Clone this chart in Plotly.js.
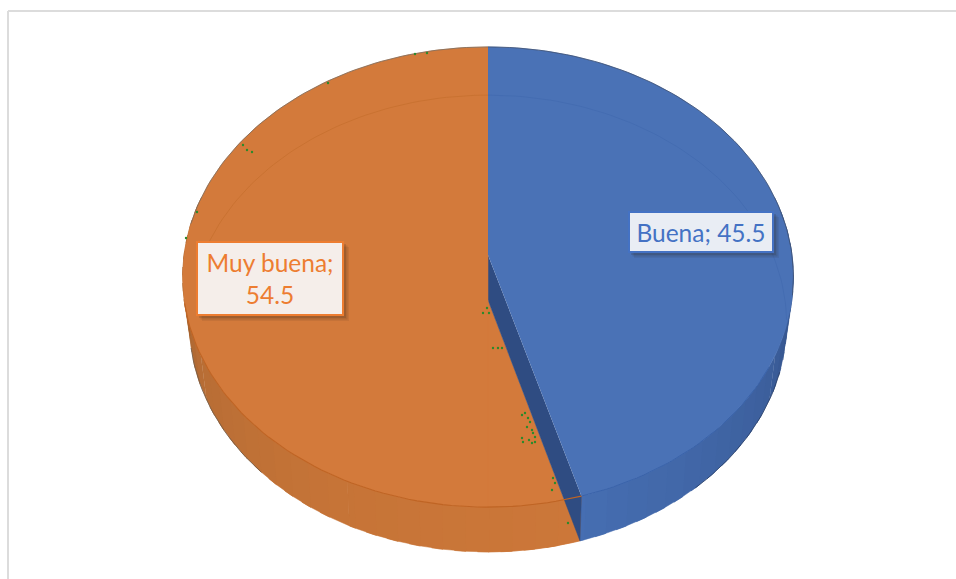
<!DOCTYPE html>
<html>
<head>
<meta charset="utf-8">
<script src="https://cdn.plot.ly/plotly-3.0.1.min.js"></script>
<style>html,body{margin:0;padding:0;background:#fff}#chart{width:956px;height:579px}</style>
</head>
<body>
<div id="chart"></div>
<script>
// Data
const categories = ['Buena', 'Muy buena'];
const values = [45.5, 54.5];
// Small green print specks
const speckX = [483,487,489,493,498,502,522,525,528,530,527,532,533,535,522,529,523,532,535,553,555,552,568,328,415,427,243,247,252,197,186];
const speckY = [313,308,313,348,348,348,415,413,418,422,427,430,433,437,438,440,442,443,442,478,483,490,523,83,54,53,145,150,152,212,238];

// Styles
const faceBlue = '#4a72b6', faceOrange = '#d37a3b';
const ringBlue = '#3a63aa', ringOrange = '#bf6424';
const backBlue = '#426bb0', backOrange = '#c7702f';
const quadDark = '#2f4c82';
const font = 'Lato, "Open Sans", sans-serif';

// Perspective discs (top face and base of the 3-D pie), in the axis units below
const topDisc = {cx: 488, ay: 255, rx: 304, ry: 228, p: 0.0957};
const baseDisc = {cx: 488, ay: 300, rx: 297, ry: 226, p: 0.103};
function pt(d, deg) {
  const a = deg * Math.PI / 180, u = Math.sin(a), v = -Math.cos(a), w = 1 - d.p * v;
  return [d.cx + d.rx * u / w, d.ay + d.ry * v / w];
}
function arc(d, a0, a1) {
  const n = Math.max(2, Math.ceil(Math.abs(a1 - a0) / 1.5)), out = [];
  for (let i = 0; i <= n; i++) out.push(pt(d, a0 + (a1 - a0) * i / n));
  return out;
}
function mix(c1, c2, t) {
  const h = c => [1, 3, 5].map(i => parseInt(c.substr(i, 2), 16));
  const A = h(c1), B = h(c2);
  return 'rgb(' + A.map((x, i) => Math.round(x + (B[i] - x) * t)).join(',') + ')';
}
const traces = [];
function poly(points, color) {
  traces.push({type: 'scatter', mode: 'lines', x: points.map(p => p[0]), y: points.map(p => p[1]),
    fill: 'toself', fillcolor: color, line: {color: color, width: 0.5}, hoverinfo: 'skip', showlegend: false});
}
function stroke(points, color, width) {
  traces.push({type: 'scatter', mode: 'lines', x: points.map(p => p[0]), y: points.map(p => p[1]),
    line: {color: color, width: width}, hoverinfo: 'skip', showlegend: false});
}
// Wall segments overlap the next one, so no seams appear between them.
function wall(a0, a1, c0, c1, step) {
  for (let a = a0; a < a1 - 1e-6; a += step) {
    const b = Math.min(a + step + 2, a1), t = (a - a0) / (a1 - a0);
    poly(arc(topDisc, a, b).concat(arc(baseDisc, b, a)), mix(c0, c1, t));
  }
}

const total = values.reduce((s, x) => s + x, 0);
const split = 360 * values[0] / total;

// Blue outer wall (dark at the right, lighter towards the front)
wall(75, 115, '#2a4373', '#3c5f9c', 4);
wall(115, split, '#3c5f9c', '#466eb2', 4);
// Orange wedge of the base in front of the blue cut wall
poly([[baseDisc.cx, baseDisc.ay]].concat(arc(baseDisc, split, 180)), faceOrange);
// Orange outer wall: near face colour at the front, brown at the left
wall(split, 205, '#cc7739', '#c67437', 4);
wall(205, 245, '#c67437', '#b76d35', 4);
wall(245, 285, '#b76d35', '#865022', 4);
// Dark cut wall of the blue slice
poly([[topDisc.cx, topDisc.ay], [baseDisc.cx, baseDisc.ay], pt(baseDisc, split), pt(topDisc, split)], quadDark);
// Top faces
poly([[topDisc.cx, topDisc.ay]].concat(arc(topDisc, 0, split)), faceBlue);
poly([[topDisc.cx, topDisc.ay]].concat(arc(topDisc, 180, 360)), faceOrange);
// Faint edges
stroke(arc(baseDisc, 0, 95), backBlue, 0.8);
stroke(arc(baseDisc, 280, 360), backOrange, 0.8);
stroke(arc(topDisc, 118, split), ringBlue, 1);
stroke(arc(topDisc, split, 258), ringOrange, 1.1);
stroke(arc(topDisc, 0, 100), '#3d4f70', 0.8);
stroke(arc(topDisc, 278, 360), '#7a6a5c', 0.8);
stroke(arc(baseDisc, 108, 140), '#2a3f66', 0.8);
stroke(arc(baseDisc, 225, 258), '#6e5a48', 0.8);
// Specks
traces.push({type: 'scatter', mode: 'markers', x: speckX, y: speckY,
  marker: {color: '#2c8a2c', size: 2.4}, hoverinfo: 'skip', showlegend: false});

// Label boxes
const boxes = [
  {x0: 629, x1: 772, y0: 212, y1: 251, fill: '#e9edf4', line: '#4472c4', text: categories[0] + '; ' + values[0].toFixed(1), color: '#4472c4'},
  {x0: 197, x1: 342, y0: 242, y1: 314, fill: '#f5eeea', line: '#ed7d31', text: categories[1] + ';<br>' + values[1].toFixed(1), color: '#ed7d31'}
];
const shapes = [
  {type: 'line', x0: 8, x1: 956, y0: 11, y1: 11, line: {color: '#dcdcdc', width: 2}, layer: 'below'},
  {type: 'line', x0: 8, x1: 8, y0: 11, y1: 579, line: {color: '#dcdcdc', width: 2}, layer: 'below'}
];
const annotations = [];
boxes.forEach(b => {
  [[6, 0.08], [4.5, 0.12], [3, 0.14]].forEach(s => {
    shapes.push({type: 'rect', x0: b.x0 + s[0] - 1, x1: b.x1 + s[0] + 1, y0: b.y0 + s[0] - 1, y1: b.y1 + s[0] + 1,
      fillcolor: 'rgba(40,30,20,' + s[1] + ')', line: {width: 0}, layer: 'above'});
  });
  annotations.push({x: (b.x0 + b.x1) / 2, y: (b.y0 + b.y1) / 2, xref: 'x', yref: 'y', showarrow: false,
    text: b.text, align: 'center', valign: 'middle',
    width: b.x1 - b.x0 - 1, height: b.y1 - b.y0 - 1, borderpad: 0, borderwidth: 2,
    bgcolor: b.fill, bordercolor: b.line,
    font: {family: font, size: 24.5, color: b.color}});
});

Plotly.newPlot('chart', traces, {
  width: 956, height: 579, margin: {l: 0, r: 0, t: 0, b: 0},
  paper_bgcolor: '#ffffff', plot_bgcolor: '#ffffff', showlegend: false,
  xaxis: {range: [0, 956], visible: false, fixedrange: true},
  yaxis: {range: [579, 0], visible: false, fixedrange: true},
  shapes: shapes, annotations: annotations
}, {displayModeBar: false, staticPlot: true});
</script>
</body>
</html>
